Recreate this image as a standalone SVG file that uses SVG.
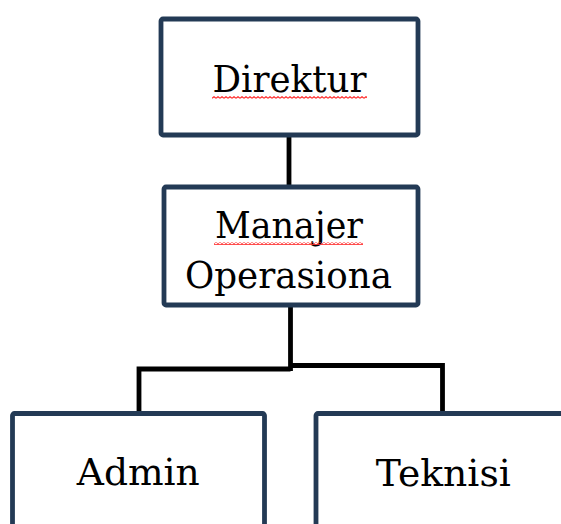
<svg xmlns="http://www.w3.org/2000/svg" width="561" height="524" viewBox="0 0 561 524">
<style>
.box{fill:#ffffff;stroke:#233a55;stroke-width:4.8}
.lbl{font-family:"DejaVu Serif","Liberation Serif",serif;font-size:37px;fill:#000;text-anchor:middle}
.con{fill:none;stroke:#000;stroke-width:4.8}
</style>
<defs>
<pattern id="sq" width="4" height="3" patternUnits="userSpaceOnUse">
<path d="M0,2.3 L2,0.7 L4,2.3" fill="none" stroke="#ff3030" stroke-width="1.2"/>
</pattern>
</defs>
<rect width="561" height="524" fill="#ffffff"/>
<g id="connectors">
<path class="con" d="M289,137 V187"/>
<path class="con" d="M290.5,305 V371"/>
<path class="con" d="M139,413 V369 H290.5"/>
<path class="con" d="M442.5,413 V365.5 H290.5"/>
</g>
<g id="direktur">
<rect class="box" x="161" y="19" width="257" height="116" rx="2"/>
<text class="lbl" x="289.5" y="91.7" textLength="154" lengthAdjust="spacingAndGlyphs">Direktur</text>
<rect x="212" y="96" width="155" height="3" fill="url(#sq)"/>
</g>
<g id="manajer">
<rect class="box" x="164" y="187" width="254" height="118" rx="2"/>
<text class="lbl" x="289" y="238.3" textLength="148" lengthAdjust="spacingAndGlyphs">Manajer</text>
<text class="lbl" x="288.5" y="288.3" textLength="207" lengthAdjust="spacingAndGlyphs">Operasiona</text>
<rect x="214" y="242" width="149" height="3" fill="url(#sq)"/>
</g>
<g id="admin">
<rect class="box" x="12.5" y="413.5" width="252" height="150" rx="2"/>
<text class="lbl" x="138.3" y="485" textLength="123" lengthAdjust="spacingAndGlyphs">Admin</text>
</g>
<g id="teknisi">
<rect class="box" x="316" y="413.5" width="300" height="150" rx="2"/>
<text class="lbl" x="443.3" y="486" textLength="135" lengthAdjust="spacingAndGlyphs">Teknisi</text>
</g>
</svg>
